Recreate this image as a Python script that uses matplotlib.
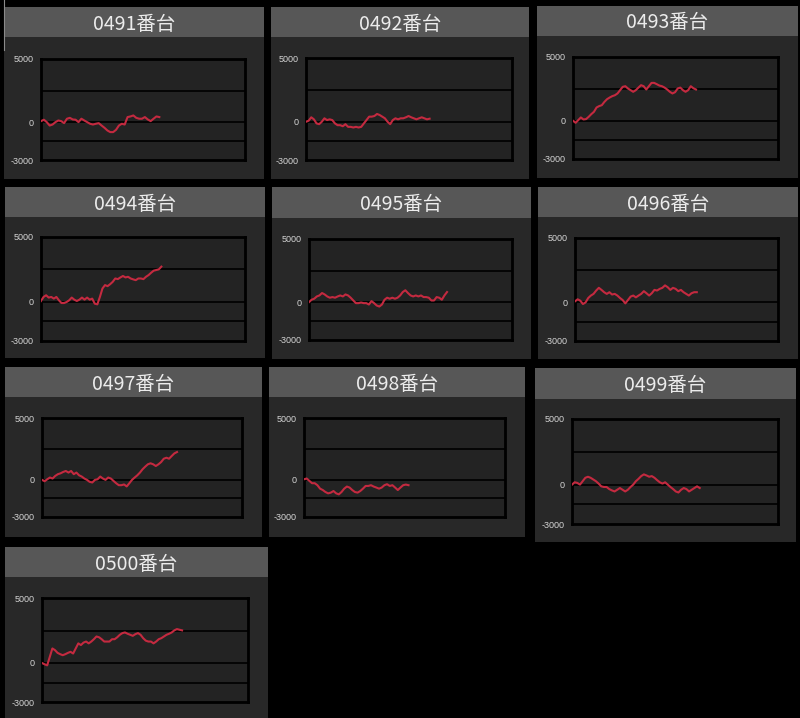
import matplotlib
matplotlib.use('Agg')
import matplotlib.pyplot as plt
from matplotlib.patches import Rectangle

W, H = 800, 718

titles = ["0491番台", "0492番台", "0493番台", "0494番台", "0495番台",
          "0496番台", "0497番台", "0498番台", "0499番台", "0500番台"]

s0491 = [80, 190, 0, -270, -190, 0, 130, 80, -80, 270, 340, 210, 190, 0, 270, 130, 0,
         -130, -190, -130, -80, -270, -450, -660, -790, -790, -610, -270, -130, -190,
         400, 450, 530, 340, 270, 270, 400, 210, 80, 270, 450, 400]
s0492 = [0, 80, 350, 190, -130, -190, 0, 270, 130, 190, 130, -130, -270, -270, -350,
         -190, -400, -400, -450, -400, -450, -400, -130, 130, 400, 400, 450, 610, 530,
         400, 270, 0, -190, 130, 270, 190, 270, 270, 350, 450, 350, 270, 190, 270, 350,
         270, 190, 240]
s0493 = [0, -160, 50, 260, 100, 130, 310, 520, 700, 1040, 1150, 1220, 1480, 1690, 1820,
         1930, 2000, 2140, 2400, 2660, 2710, 2530, 2400, 2270, 2400, 2600, 2790, 2710,
         2450, 2710, 2970, 2970, 2870, 2760, 2710, 2600, 2450, 2270, 2140, 2240, 2530,
         2600, 2400, 2270, 2400, 2710, 2550, 2450]
s0494 = [80, 390, 520, 340, 390, 260, 390, 130, -80, -80, 0, 130, 340, 180, 80, 180, 340,
         180, 340, 180, 260, -130, -180, 390, 1040, 1300, 1220, 1370, 1550, 1810, 1760,
         1890, 2000, 1890, 1940, 1810, 1740, 1680, 1810, 1810, 1760, 1940, 2070, 2250,
         2410, 2460, 2510, 2720]
s0495 = [0, 190, 270, 450, 530, 720, 610, 450, 350, 400, 350, 450, 530, 450, 610, 530, 350,
         130, -80, -80, -30, -80, -80, -190, 80, -80, -270, -350, -190, 190, 350, 270, 350,
         270, 350, 530, 800, 940, 720, 530, 450, 530, 450, 530, 400, 400, 350, 130, 130,
         400, 350, 190, 530, 800]
s0496 = [80, 240, 130, -130, 0, 340, 530, 660, 920, 1130, 970, 790, 660, 790, 610, 660,
         530, 340, 180, -80, 180, 450, 530, 390, 530, 660, 870, 710, 530, 710, 970, 920,
         1050, 1130, 1320, 1180, 970, 1130, 1050, 870, 970, 790, 660, 530, 710, 790, 790]
s0497 = [0, -110, 50, 190, 110, 320, 460, 530, 640, 720, 590, 720, 460, 590, 370, 270, 110,
         0, -160, -210, 0, 50, 270, 110, 0, 190, 110, -80, -270, -430, -430, -370, -530,
         -270, 0, 190, 370, 590, 860, 1070, 1260, 1340, 1260, 1120, 1260, 1440, 1710,
         1790, 1710, 1930, 2140, 2250]
s0498 = [50, 110, -80, -270, -270, -430, -710, -820, -980, -1090, -1030, -900, -1090, -1170,
         -980, -710, -540, -620, -820, -980, -1030, -900, -710, -490, -490, -430, -540,
         -620, -710, -620, -430, -350, -490, -430, -620, -820, -620, -430, -380, -430]
s0499 = [0, 180, 130, 0, 260, 520, 600, 520, 390, 260, 80, -130, -180, -180, -340, -440,
         -520, -390, -260, -390, -520, -390, -180, 0, 260, 440, 650, 780, 700, 600, 650,
         520, 340, 180, 80, 180, 0, -180, -340, -520, -600, -390, -260, -340, -520, -390,
         -260, -130, -260]
s0500 = [0, -100, -180, 470, 1120, 990, 780, 680, 600, 680, 780, 860, 730, 1120, 1510, 1380,
         1570, 1650, 1510, 1650, 1830, 2040, 1980, 1830, 1650, 1650, 1650, 1830, 1830, 1980,
         2170, 2300, 2350, 2250, 2170, 2090, 2220, 2300, 2170, 1910, 1720, 1650, 1650, 1510,
         1650, 1830, 1910, 2040, 2170, 2250, 2350, 2510, 2610, 2560, 2510]
series = [s0491, s0492, s0493, s0494, s0495, s0496, s0497, s0498, s0499, s0500]

# share of the x axis the data reaches in each chart
x_reach = [0.58, 0.60, 0.60, 0.59, 0.68, 0.60, 0.675, 0.52, 0.62, 0.68]

y_ticks = [-3000, 0, 5000]
y_grid = [-1500, 0, 2500]

# pixel boxes: panel (l, t, r, b), header bottom, plot (l, t, r, b)
panels = [
    ((4, 7, 264, 179), 37, (41, 59, 245, 160)),
    ((271, 7, 529, 179), 37, (306, 58, 512, 160)),
    ((537, 6, 798, 178), 36, (573, 57, 778, 159)),
    ((5, 187, 265, 358), 217, (41, 237, 245, 341)),
    ((272, 187, 531, 359), 218, (309, 239, 512, 340)),
    ((538, 187, 798, 359), 217, (575, 238, 778, 341)),
    ((5, 367, 262, 537), 397, (42, 418, 242, 517)),
    ((269, 367, 525, 537), 397, (304, 418, 505, 517)),
    ((535, 368, 796, 542), 399, (572, 419, 778, 524)),
    ((5, 547, 268, 720), 577, (42, 598, 248, 702)),
]

PANEL_BG = '#282828'
HEAD_BG = '#575757'
PLOT_BG = '#232323'
LINE_C = '#c42a40'


def fbox(l, t, r, b):
    return [l / W, 1 - b / H, (r - l) / W, (b - t) / H]


fig = plt.figure(figsize=(W / 100, H / 100), dpi=100, facecolor='black')

for title, vals, reach, (pbox, hb, abox) in zip(titles, series, x_reach, panels):
    l, t, r, b = pbox
    x0, y0, w, h = fbox(l, t, r, b)
    fig.add_artist(Rectangle((x0, y0), w, h, transform=fig.transFigure,
                             facecolor=PANEL_BG, edgecolor='none', zorder=0))
    x0, y0, w, h = fbox(l, t, r, hb)
    fig.add_artist(Rectangle((x0, y0), w, h, transform=fig.transFigure,
                             facecolor=HEAD_BG, edgecolor='none', zorder=0))
    fig.text(x0 + w / 2, y0 + h / 2 - 2 / H, title, ha='center', va='center',
             fontsize=14, color='#ececec', family=['Noto Sans CJK JP', 'DejaVu Sans'])

    ax = fig.add_axes(fbox(*abox))
    ax.set_facecolor(PLOT_BG)
    for yg in y_grid:
        ax.axhline(yg, color='black', lw=1.2, zorder=1)
    xs = list(range(len(vals)))
    ax.plot(xs, vals, color=LINE_C, lw=1.5, zorder=3)
    ax.set_xlim(0, (len(vals) - 1) / reach)
    ax.set_ylim(-3000, 5000)
    ax.set_xticks([])
    ax.set_yticks(y_ticks)
    ax.set_yticklabels([str(v) for v in y_ticks], fontsize=6.5, color='#d4d4d4',
                       family='Liberation Sans')
    ax.tick_params(axis='y', length=0, pad=5)
    for sp in ax.spines.values():
        sp.set_color('black')
        sp.set_linewidth(2)

# thin edge line at the top-left corner
fig.add_artist(plt.Line2D([3.5 / W, 3.5 / W], [1 - 50 / H, 1], transform=fig.transFigure,
                          color='#8a8a8a', lw=0.8))

fig.savefig('out.png', dpi=100, facecolor='black')
